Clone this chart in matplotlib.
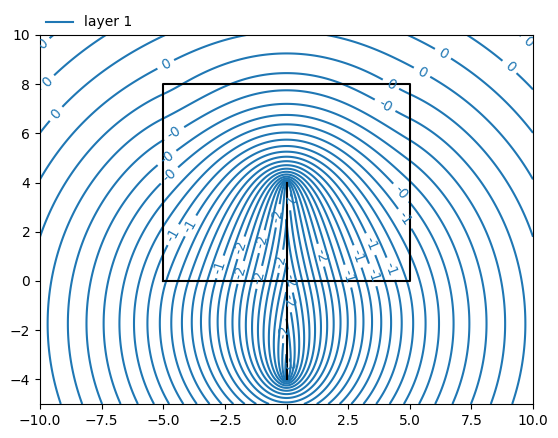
import numpy as np
import matplotlib.pyplot as plt
from matplotlib.lines import Line2D

# elements of the model
sink_x = [0.0, 0.0]
sink_y = [-4.0, 4.0]
sink_discharge = 10.5         # head-specified line sink, total discharge
box_x = [-5.0, 5.0, 5.0, -5.0, -5.0]
box_y = [0.0, 0.0, 8.0, 8.0, 0.0]
box_rate = -0.04              # areal extraction in the rectangle (negative = recharge)
ref_point = [0.0, 8.45]       # a contour crosses x=0 here
ref_head = -0.1
levels = np.round(np.arange(-3.0, 1.05, 0.1), 1)
win = [-10, 10, -5, 10]
ngr = [401, 301]


def safe_xlogr2(a, r2):
    out = np.zeros_like(r2)
    m = r2 > 0
    out[m] = a[m] * np.log(r2[m])
    return out


def safe_sq_atan(a, b):
    # a**2 * arctan(b / a), zero where a == 0
    out = np.zeros_like(a)
    m = a != 0
    out[m] = a[m] ** 2 * np.arctan(b[m] / a[m])
    return out


def line_sink_xi(x, y):
    # elliptic coordinate around the sink: head is constant along the sink
    c = 0.5 * np.hypot(sink_x[1] - sink_x[0], sink_y[1] - sink_y[0])
    r1 = np.hypot(x - sink_x[0], y - sink_y[0])
    r2 = np.hypot(x - sink_x[1], y - sink_y[1])
    return np.arccosh(np.maximum((r1 + r2) / (2 * c), 1.0))


def area_int(x, y):
    # integral of ln(r^2) over the rectangle
    def G(a, b):
        r2 = a ** 2 + b ** 2
        return (safe_xlogr2(a * b, r2) - 3 * a * b
                + safe_sq_atan(a, b) + safe_sq_atan(b, a))

    x1, x2 = box_x[0], box_x[1]
    y1, y2 = box_y[0], box_y[2]
    return (G(x - x1, y - y1) - G(x - x2, y - y1)
            - G(x - x1, y - y2) + G(x - x2, y - y2))


def head(x, y):
    return (sink_discharge / (2 * np.pi) * line_sink_xi(x, y)
            + box_rate / (4 * np.pi) * area_int(x, y))


xg = np.linspace(win[0], win[1], ngr[0])
yg = np.linspace(win[2], win[3], ngr[1])
X, Y = np.meshgrid(xg, yg)
H = head(X, Y)
H = H - head(np.array([ref_point[0]]), np.array([ref_point[1]]))[0] + ref_head

fig = plt.figure(figsize=(5.58, 4.38), dpi=100)
ax = fig.add_axes([40 / 558, 34 / 438, 493 / 558, 369 / 438])
cs = ax.contour(xg, yg, H, levels=levels, colors='C0', linestyles='solid')
ax.clabel(cs, fmt='%1.0f')
ax.plot(sink_x, sink_y, 'k')
ax.plot(box_x, box_y, 'k')
ax.set_xlim(win[0], win[1])
ax.set_ylim(win[2], win[3])
handles = [Line2D([], [], color='C0')]
ax.legend(handles, ['layer 1'], loc=(0, 1), frameon=False)

fig.savefig('out.png', dpi=100)
